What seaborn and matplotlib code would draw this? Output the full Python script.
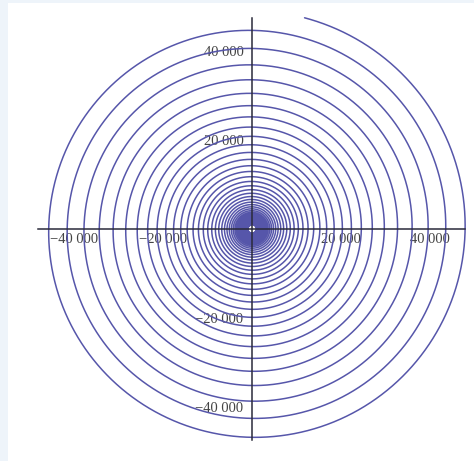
import numpy as np
import pandas as pd
import matplotlib
matplotlib.use("Agg")
import matplotlib.pyplot as plt
import seaborn as sns

# Logarithmic spiral r = r_end * growth^((theta - theta_end) / 2pi)
r_end = 48900.0          # radius at the outer end of the curve
theta_end_deg = 76.0     # polar angle of the outer end
growth_per_turn = 1.10   # radius ratio between successive turns
r_inner = 900.0          # radius where the curve starts (small hole at origin)

x_limits = [-48100, 47900]
y_limits = [-47400, 47400]
major_ticks = [-40000, -20000, 20000, 40000]
x_tick_labels = ["\u221240 000", "\u221220 000", "20 000", "40 000"]
y_tick_labels = ["\u221240 000", "\u221220 000", "20 000", "40 000"]
minor_step = 5000

b = np.log(growth_per_turn) / (2 * np.pi)
theta_end = np.deg2rad(theta_end_deg)
theta_start = theta_end - np.log(r_end / r_inner) / b
theta = np.linspace(theta_start, theta_end, 40000)
r = r_end * np.exp(b * (theta - theta_end))
curve = pd.DataFrame({"x": r * np.cos(theta), "y": r * np.sin(theta)})

sns.set_style("white")
plt.rcParams["font.family"] = ["Liberation Serif", "DejaVu Serif"]

W, H = 474, 461
fig = plt.figure(figsize=(W / 100, H / 100), dpi=100, facecolor="#eef4fa")
backdrop = plt.Rectangle((8 / W, 0), 1, 1 - 3 / H, transform=fig.transFigure,
                         facecolor="white", edgecolor="none", zorder=-5)
fig.patches.append(backdrop)

ax = fig.add_axes([38 / W, 21 / H, 427 / W, 422 / H])
ax.set_zorder(5)
ax.set_facecolor("none")

sns.lineplot(data=curve, x="x", y="y", sort=False, estimator=None,
             color="#5656aa", linewidth=1.1, ax=ax, clip_on=False, zorder=2)

ax.set_xlim(*x_limits)
ax.set_ylim(*y_limits)
ax.set_xlabel("")
ax.set_ylabel("")

for side in ("top", "right"):
    ax.spines[side].set_visible(False)
for side in ("left", "bottom"):
    ax.spines[side].set_position(("data", 0))
    ax.spines[side].set_color("#2a2a3a")
    ax.spines[side].set_linewidth(1.1)
    ax.spines[side].set_zorder(3)

ax.set_xticks(major_ticks)
ax.set_xticklabels(x_tick_labels)
ax.set_yticks(major_ticks)
ax.set_yticklabels(y_tick_labels)
minor = [v for v in range(-45000, 45001, minor_step) if v % 20000 != 0]
ax.set_xticks(minor, minor=True)
ax.set_yticks(minor, minor=True)

ax.tick_params(axis="both", which="major", direction="in", length=4, width=1.0,
               color="#2a2a3a", labelsize=10.5, labelcolor="#444444", pad=3)
ax.tick_params(axis="both", which="minor", direction="in", length=2.5, width=0.9,
               color="#2a2a3a")
ax.tick_params(axis="y", which="major", direction="inout", length=6)

fig.savefig("out.png", dpi=100, facecolor=fig.get_facecolor())
